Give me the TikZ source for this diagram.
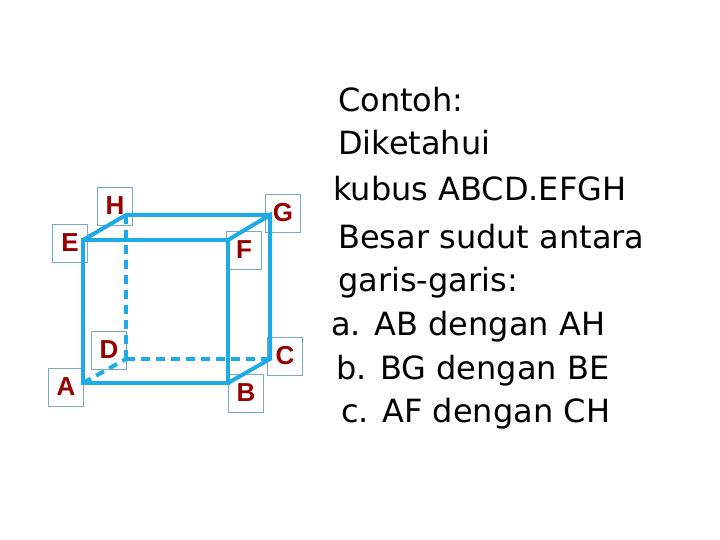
\documentclass[tikz,border=0pt]{standalone}
\usepackage{fontspec}
\setmainfont{DejaVu Sans}
\newfontfamily\lab{Liberation Sans}
\begin{document}
\begin{tikzpicture}[x=1pt,y=-1pt,
  edge/.style={draw={rgb,255:red,30;green,170;blue,230},line width=4pt,line cap=round},
  hid/.style={edge,dashed,dash pattern=on 9pt off 6pt,line cap=butt},
  lbl/.style={draw={rgb,255:red,120;green,170;blue,190},line width=0.5pt,minimum width=35pt,minimum height=38pt,inner sep=0pt,text={rgb,255:red,150;green,0;blue,0},font=\lab\bfseries\fontsize{26}{28}\selectfont},
  txt/.style={anchor=west,inner sep=0pt,font=\fontsize{32}{36}\selectfont}]
\useasboundingbox (0,0) rectangle (720,540);
\coordinate (A) at (83,383); \coordinate (B) at (228,383);
\coordinate (C) at (270,359); \coordinate (D) at (126,359);
\coordinate (E) at (83,240); \coordinate (F) at (228,240);
\coordinate (G) at (270,215); \coordinate (H) at (126,215);
\node[lbl] (lA) at (66,387) {A};
\node[lbl] (lB) at (246,393) {B};
\node[lbl] (lC) at (285,356) {C};
\node[lbl] (lD) at (109,350) {D};
\node[lbl] (lE) at (70,243) {E};
\node[lbl] (lF) at (244,250) {F};
\node[lbl] (lG) at (283,213) {G};
\node[lbl] (lH) at (115,206) {H};
\draw[hid] (A) -- (D); \draw[hid] (D) -- (C); \draw[hid] (D) -- (H);
\draw[edge] (A) -- (B) -- (F) -- (E) -- cycle;
\draw[edge] (B) -- (C) -- (G) -- (F);
\draw[edge] (E) -- (H) -- (G);
\node[txt] (t1) at (338,100) {Contoh:};
\node[txt] (t2) at (338,143) {Diketahui};
\node[txt] (t3) at (333,189) {kubus ABCD.EFGH};
\node[txt] (t4) at (338,237) {Besar sudut antara};
\node[txt] (t5) at (338,283) {garis-garis:};
\node[txt] (t6) at (331,327) {a. AB dengan AH};
\node[txt] (t7) at (336,371) {b. BG dengan BE};
\node[txt] (t8) at (341,414) {c. AF dengan CH};
\end{tikzpicture}
\end{document}
